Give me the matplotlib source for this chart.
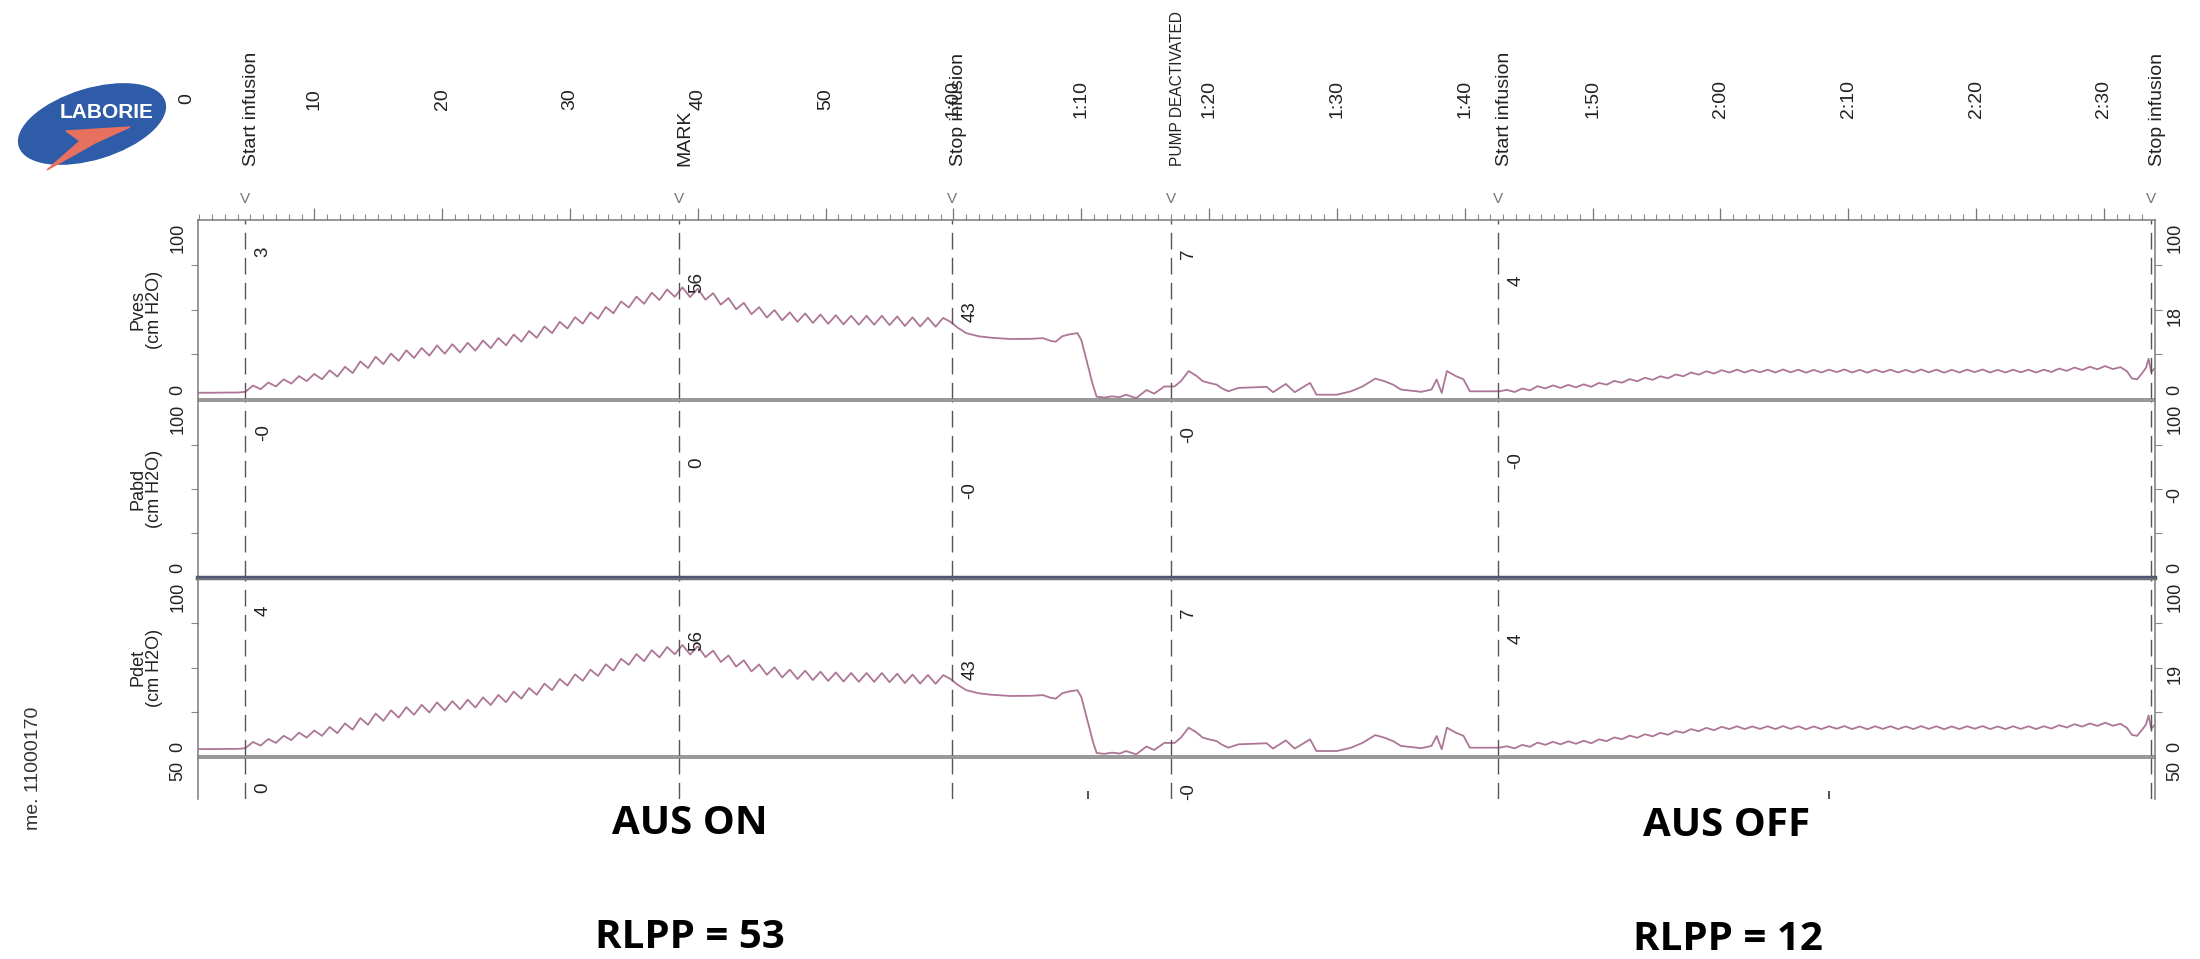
import numpy as np
import matplotlib
matplotlib.use("Agg")
import matplotlib.pyplot as plt
from matplotlib import font_manager
from matplotlib.patches import Ellipse, Polygon
from matplotlib.transforms import blended_transform_factory

# ---- values (time in minutes, pressure in cm H2O) ----
time_ticks = [0, 10, 20, 30, 40, 50, 60, 70, 80, 90, 100, 110, 120, 130, 140, 150]
time_labels = ["0", "10", "20", "30", "40", "50", "1:00", "1:10", "1:20", "1:30",
               "1:40", "1:50", "2:00", "2:10", "2:20", "2:30"]

event_times = [4.6, 38.5, 59.9, 77.0, 102.6, 153.7]
event_names = ["Start infusion", "MARK", "Stop infusion", "PUMP DEACTIVATED",
               "Start infusion", "Stop infusion"]

channels = ["Pves\n(cm H2O)", "Pabd\n(cm H2O)", "Pdet\n(cm H2O)"]
pves_marks = ["3", "56", "43", "7", "4"]
pabd_marks = ["-0", "0", "-0", "-0", "-0"]
pdet_marks = ["4", "56", "43", "7", "4"]
current_values = ["18", "-0", "19"]
bottom_marks = [70.5, 128.5]

# Pves: quiet lead-in before the first infusion
lead_t = [0.9, 2.0, 3.0, 4.0, 4.6]
lead_v = [3.5, 3.5, 3.6, 3.6, 4.0]

# Pves during the first filling (sampled every 0.6 min from 5.2 to 59.8)
fill1_v = [7.5, 5.5, 9.2, 7.0, 11, 8.6, 12.8, 10, 14, 11,
           16, 12.5, 18, 14.5, 21, 17.3, 23.6, 19.5, 25.4, 21.3,
           27.2, 22.9, 28.5, 24.2, 29.9, 25.3, 30.6, 26, 31.4, 27,
           32.7, 28.4, 34.1, 30, 36, 32, 38, 34.2, 40.5, 36.8,
           43.1, 39.4, 45.7, 42.1, 48.4, 44.8, 51.4, 47.9, 54.5, 51.1,
           57.2, 53.2, 59.4, 55.3, 61.2, 57.1, 62.3, 56.9, 61.6, 55.5,
           59.1, 52.7, 56.4, 50.1, 53.7, 47.4, 51.3, 45.5, 49.7, 44,
           48.4, 43.1, 47.8, 42.5, 47.2, 42, 46.8, 41.7, 46.5, 41.5,
           46.5, 41.5, 46.5, 41.3, 46.1, 40.8, 45.6, 40.5, 45.4, 40.4,
           45.3, 43]

# Pves after stop infusion / pump deactivation
mid_t = [60.3, 61.0, 62.0, 63.0, 64.5, 66.0, 67.0, 67.6, 68.0, 68.5,
         69.0, 69.7, 70.0, 70.4, 70.9, 71.2, 71.8, 72.4, 73.0, 73.5,
         74.0, 74.3, 75.1, 75.7, 76.5, 77.3, 77.8, 78.4, 79.0, 79.5,
         80.0, 80.6, 81.0, 81.5, 82.3, 83.5, 84.5, 85.0, 86.0, 86.7,
         87.9, 88.4, 90.0, 91.1, 92.0, 93.0, 93.7, 94.4, 95.0, 96.0,
         96.6, 97.4, 97.8, 98.2, 98.6, 99.3, 99.9, 100.4, 101.5, 102.2]
mid_v = [40, 36.8, 35, 34.2, 33.5, 33.6, 34, 32.5, 32, 35,
         36, 36.8, 33, 22, 8, 1.3, 0.8, 1.5, 1, 2.4,
         1.2, 0.5, 5, 3, 7, 7, 10, 15.6, 13, 10,
         9, 8, 6, 4.3, 6.2, 6.5, 6.8, 3.8, 8.4, 3.8,
         9, 2.4, 2.4, 4.3, 7, 11.4, 10, 8, 5.3, 4.5,
         4, 5.3, 10.9, 3.4, 15.6, 12.8, 11, 4.3, 4.3, 4.3]

# Pves during the second filling (sampled every 0.6 min from 102.7 to 151.3)
fill2_v = [4.3, 5.1, 3.9, 5.9, 4.8, 7.2, 5.9, 7.6, 6.2, 7.9,
           6.5, 8.2, 6.8, 9.0, 8.0, 10.1, 9.1, 11.1, 9.9, 11.9,
           10.7, 12.7, 11.6, 13.7, 12.7, 14.8, 13.6, 15.5, 14.2, 16.1,
           14.8, 16.4, 14.8, 16.3, 14.9, 16.4, 14.8, 16.5, 14.9, 16.4,
           14.7, 16.3, 14.8, 16.4, 15.0, 16.5, 14.8, 16.3, 14.7, 16.4,
           14.9, 16.4, 14.8, 16.3, 14.8, 16.5, 14.9, 16.4, 14.7, 16.3,
           14.8, 16.4, 15.0, 16.5, 14.8, 16.3, 14.8, 16.4, 14.9, 16.4,
           14.8, 16.4, 15.1, 17.0, 15.7, 17.6, 16.2, 18.0, 16.6, 18.4,
           16.7, 17.8]

end_t = [151.8, 152.2, 152.6, 153.0, 153.3, 153.5, 153.7, 153.95]
end_v = [15.5, 11.5, 11.0, 14.5, 17.5, 22.5, 15.0, 17.0]

pabd_level = -0.4

pves_t = np.concatenate([lead_t, np.linspace(5.2, 59.8, len(fill1_v)), mid_t,
                         np.linspace(102.7, 151.3, len(fill2_v)), end_t])
pves_v = np.concatenate([lead_v, fill1_v, mid_v, fill2_v, end_v])
pdet_v = pves_v - pabd_level

# ---- fonts ----
names = {f.name for f in font_manager.fontManager.ttflist}
narrow = "Liberation Sans Narrow" if "Liberation Sans Narrow" in names else "Liberation Sans"
plt.rcParams["font.family"] = ["Liberation Sans", "DejaVu Sans"]

W, H = 2200, 959
fig = plt.figure(figsize=(22, 9.59), dpi=100)

# pixel overlay for the header, logo and captions
over = fig.add_axes([0, 0, 1, 1], zorder=0)
over.set_xlim(0, W)
over.set_ylim(H, 0)
over.axis("off")

x_left, x_right = 198, 2155
panel_px = [(220, 399), (401, 577), (579, 756), (758, 799)]
ylims = [(0, 100), (0, 100), (0, 100), (26.8, 50)]
axes = []
for (top, bot), yl in zip(panel_px, ylims):
    ax = fig.add_axes([x_left / W, 1 - bot / H, (x_right - x_left) / W, (bot - top) / H], zorder=1)
    ax.set_facecolor("none")
    ax.set_xlim(0.9, 154.0)
    ax.set_ylim(*yl)
    for s in ax.spines.values():
        s.set_color("#7a7a7a")
        s.set_linewidth(1.1)
    ax.tick_params(axis="x", which="both", bottom=False, top=False,
                   labelbottom=False, labeltop=False)
    if yl[1] == 100:
        ax.set_yticks([25, 50, 75])
    else:
        ax.set_yticks([])
    ax.tick_params(axis="y", left=True, right=True, direction="out", length=5,
                   width=0.8, color="#888888", labelleft=False, labelright=False)
    axes.append(ax)
axes[3].spines["bottom"].set_visible(False)

# top time axis ticks
top_ax = axes[0]
top_ax.set_xticks(time_ticks[1:])
top_ax.set_xticks(np.arange(1, 154), minor=True)
top_ax.tick_params(axis="x", which="major", top=True, direction="out", length=9,
                   width=0.9, color="#777777")
top_ax.tick_params(axis="x", which="minor", top=True, direction="out", length=4,
                   width=0.8, color="#888888")

# traces
trace_col = "#ad7697"
axes[0].plot(pves_t, pves_v, color=trace_col, lw=1.3)
axes[1].axhline(pabd_level, color="#4d5673", lw=3.2, clip_on=False, zorder=3)
axes[2].plot(pves_t, pdet_v, color=trace_col, lw=1.3)

# event lines
for ax in axes:
    for t in event_times:
        ax.axvline(t, color="#555555", lw=1.0, ls=(0, (12, 6)))
axes[3].vlines(bottom_marks, 26.8, 31.5, color="#444444", lw=1.3)

# header: time labels, event names, markers
hdr = blended_transform_factory(top_ax.transData, over.transData)
for t, lab in zip(time_ticks, time_labels):
    over.text(t, 99, lab, transform=hdr, rotation=90, ha="center", va="center",
              fontsize=14, family=narrow, color="#222222")
for t, name in zip(event_times, event_names):
    size = 11.2 if len(name) > 14 else 14
    over.text(t + 0.5, 166, name, transform=hdr, rotation=90, ha="center", va="bottom",
              fontsize=size, family=narrow, color="#222222")
    over.text(t, 199, "V", transform=hdr, ha="center", va="center", fontsize=11,
              color="#777777")

# values printed beside each event line
levels = [82, 65, 49, 81, 66]
for ax, marks in zip(axes[:3], [pves_marks, pabd_marks, pdet_marks]):
    for t, m, lv in zip(event_times[:5], marks, levels):
        ax.text(t + 1.4, lv, m, rotation=90, ha="center", va="center", fontsize=13.5,
                family=narrow, color="#222222")
axes[3].text(event_times[0] + 1.4, 33, "0", rotation=90, ha="center", va="center",
             fontsize=13.5, family=narrow, color="#222222")
axes[3].text(event_times[3] + 1.4, 31, "-0", rotation=90, ha="center", va="center",
             fontsize=13.5, family=narrow, color="#222222")

# scale labels at both sides
tops = ["100", "100", "100", "50"]
for i, (top, bot) in enumerate(panel_px):
    for xp in (178, 2175):
        over.text(xp, top + 3, tops[i], rotation=90, ha="center", va="top",
                  fontsize=13, family=narrow, color="#222222")
        if i < 3:
            over.text(xp, bot - 4, "0", rotation=90, ha="center", va="bottom",
                      fontsize=13, family=narrow, color="#222222")
    if i < 3:
        mid = (top + bot) / 2
        over.text(146, mid, channels[i], rotation=90, ha="center", va="center",
                  fontsize=13, family=narrow, linespacing=1.0, color="#222222")
        over.text(2175, mid + 6, current_values[i], rotation=90, ha="center",
                  va="center", fontsize=13, family=narrow, color="#222222")

# patient id fragment at the left edge
over.text(42, 768, "me. 11000170", rotation=90, ha="right", va="center",
          fontsize=14, color="#333333")

# logo
over.add_patch(Ellipse((92, 124), 152, 70, angle=-17, color="#2e5ca8", zorder=2))
over.add_patch(Polygon([(66, 131), (130, 127), (95, 143), (47, 170), (80, 141)],
                       closed=True, color="#e8705f", zorder=3))
over.text(107, 113, "LABORIE", ha="center", va="center", fontsize=15,
          fontweight="bold", color="white", zorder=4)

# captions
cap_font = dict(fontsize=29, fontweight="bold", family=["Open Sans", "DejaVu Sans"],
                ha="center", va="center", color="black")
over.text(690, 824, "AUS ON", **cap_font)
over.text(690, 937, "RLPP = 53", **cap_font)
over.text(1727, 826, "AUS OFF", **cap_font)
over.text(1728, 939, "RLPP = 12", **cap_font)

fig.savefig("out.png", dpi=100)
